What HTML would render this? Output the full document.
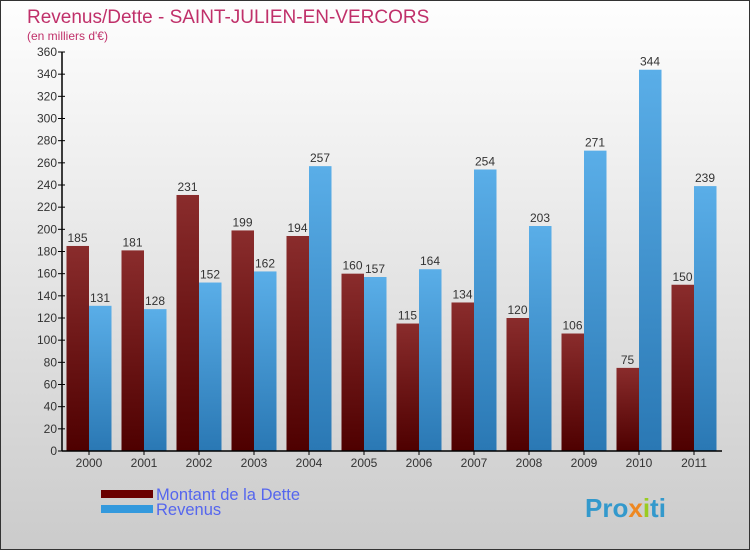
<!DOCTYPE html>
<html><head><meta charset="utf-8"><style>
body{margin:0}
#c{position:relative;width:750px;height:550px;box-sizing:border-box;border:1px solid #333;background:linear-gradient(#fefefe,#cbcbcb);font-family:"Liberation Sans",sans-serif;overflow:hidden}
</style></head><body>
<div id="c">
<svg id="s" width="750" height="550" style="position:absolute;left:0;top:0">
<defs>
<linearGradient id="gd" x1="0" y1="0" x2="0" y2="1"><stop offset="0" stop-color="#8a2c2c"/><stop offset="1" stop-color="#4e0000"/></linearGradient>
<linearGradient id="gr" x1="0" y1="0" x2="0" y2="1"><stop offset="0" stop-color="#5aaee8"/><stop offset="1" stop-color="#2a78b4"/></linearGradient>
</defs>
<text x="26" y="22" font-size="19" fill="#c0306a">Revenus/Dette - SAINT-JULIEN-EN-VERCORS</text>
<text x="26" y="39" font-size="12" fill="#c0306a">(en milliers d'€)</text>
<g id="bars"></g>
<g id="axes"></g>
<rect x="100" y="489" width="52" height="8" fill="#6a0000"/>
<rect x="100" y="504" width="52" height="8" fill="#3399dd"/>
<text x="155" y="499" font-size="16.5" fill="#5566ee">Montant de la Dette</text>
<text x="155" y="514" font-size="16.5" fill="#5566ee">Revenus</text>
<text x="584" y="516" font-size="26" font-weight="bold" fill="#3399cc">Pro<tspan fill="#ee8822">x</tspan><tspan fill="#99cc22">i</tspan>ti</text>
</svg>
</div>
<script>
const years=["2000","2001","2002","2003","2004","2005","2006","2007","2008","2009","2010","2011"];
const dette=[185,181,231,199,194,160,115,134,120,106,75,150];
const revenus=[131,128,152,162,257,157,164,254,203,271,344,239];
const yTicks=[0,20,40,60,80,100,120,140,160,180,200,220,240,260,280,300,320,340,360];
const NS="http://www.w3.org/2000/svg";
const x0=61,y0=450,gw=55,yMax=360,ph=399;
function y(v){return y0-v/yMax*ph;}
function gx(i){return x0+i*gw;}
function mk(t,a,p){const e=document.createElementNS(NS,t);for(const k in a)e.setAttribute(k,a[k]);p.appendChild(e);return e;}
const bars=document.getElementById('bars'),axes=document.getElementById('axes');
years.forEach((yr,i)=>{
 const xd=gx(i)+4.5,xr=gx(i)+27;
 const b1=mk('rect',{x:xd,y:y(dette[i]),width:22.5,height:y0-y(dette[i]),fill:'url(#gd)'},bars);
 
 
 const b2=mk('rect',{x:xr,y:y(revenus[i]),width:22.5,height:y0-y(revenus[i]),fill:'url(#gr)'},bars);
 
 
 const t1=mk('text',{x:xd+11,y:y(dette[i])-4,'font-size':12,fill:'#333','text-anchor':'middle'},bars);t1.textContent=dette[i];
 
 
 const t2=mk('text',{x:xr+11,y:y(revenus[i])-4,'font-size':12,fill:'#333','text-anchor':'middle'},bars);t2.textContent=revenus[i];
 
 
 const tl=mk('text',{x:gx(i)+27,y:y0+16,'font-size':12,fill:'#333','text-anchor':'middle'},axes);tl.textContent=yr;
 
 
 mk('line',{x1:gx(i)+27,x2:gx(i)+27,y1:y0,y2:y0+4,stroke:'#000'},axes);
});
yTicks.forEach(v=>{
 mk('line',{x1:x0-4,x2:x0+3,y1:y(v),y2:y(v),stroke:'#000'},axes);
 const t=mk('text',{x:x0-5,y:y(v)+4,'font-size':12,fill:'#333','text-anchor':'end'},axes);t.textContent=v;
 
 
});
const ya=mk('line',{x1:x0,x2:x0,y1:y(yMax),y2:y0,stroke:'#000','stroke-width':1.5},axes);


const xa=mk('line',{x1:x0,x2:x0+gw*years.length,y1:y0,y2:y0,stroke:'#000','stroke-width':1.5},axes);


</script>
</body></html>
